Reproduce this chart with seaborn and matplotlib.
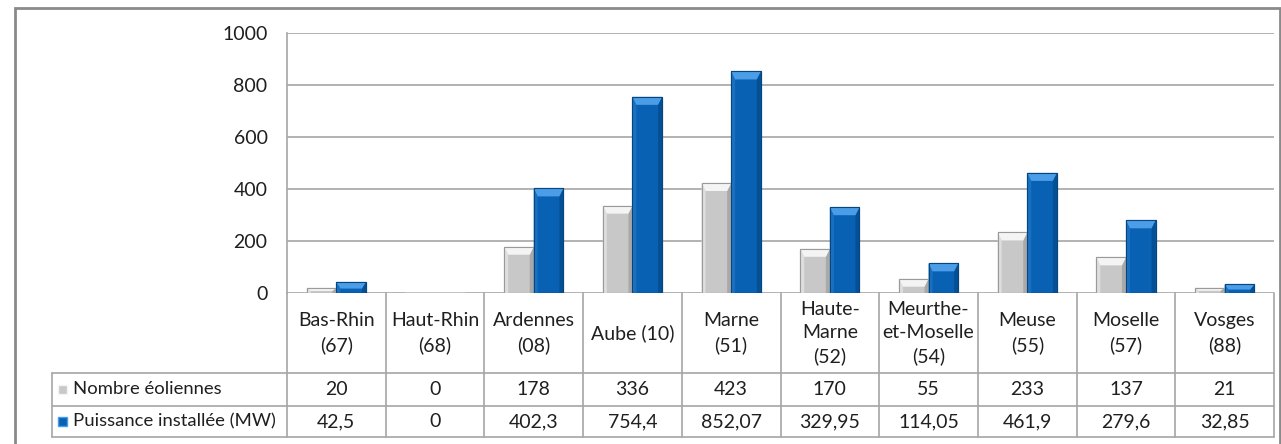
import matplotlib
matplotlib.use("Agg")
import matplotlib.pyplot as plt
import seaborn as sns
import pandas as pd
from matplotlib.patches import Rectangle, Polygon
from matplotlib.lines import Line2D
from matplotlib.transforms import blended_transform_factory

# Wind power in the Grand Est departments
departements = ["Bas-Rhin\n(67)", "Haut-Rhin\n(68)", "Ardennes\n(08)", "Aube (10)",
                "Marne\n(51)", "Haute-\nMarne\n(52)", "Meurthe-\net-Moselle\n(54)",
                "Meuse\n(55)", "Moselle\n(57)", "Vosges\n(88)"]
nombre_eoliennes = [20, 0, 178, 336, 423, 170, 55, 233, 137, 21]
puissance_mw = [42.5, 0, 402.3, 754.4, 852.07, 329.95, 114.05, 461.9, 279.6, 32.85]
series = ["Nombre éoliennes", "Puissance installée (MW)"]
y_ticks = [0, 200, 400, 600, 800, 1000]

body_colors = ["#c8c8c8", "#0861b3"]
top_colors = ["#f4f4f4", "#4a9de6"]
left_colors = ["#dedede", "#1a70c0"]
right_colors = ["#a9a9a9", "#054f94"]
edge_colors = ["#9a9a9a", "#06467f"]
line_gray = "#a6a6a6"
text_color = "#1f1f1f"

sns.set_style("white")
plt.rcParams["font.family"] = ["Lato", "DejaVu Sans"]
FS = 14
FS_LEG = 13.3

W, H = 1281, 444
fig = plt.figure(figsize=(W / 100, H / 100), dpi=100)
ax_left, ax_right, ax_bottom, ax_top = 287, 1274, 293, 33
ax = fig.add_axes([ax_left / W, (H - ax_bottom) / H,
                   (ax_right - ax_left) / W, (ax_bottom - ax_top) / H])

df = pd.DataFrame({
    "dep": departements * 2,
    "val": nombre_eoliennes + puissance_mw,
    "serie": [series[0]] * len(departements) + [series[1]] * len(departements),
})
sns.barplot(data=df, x="dep", y="val", hue="serie", order=departements,
            hue_order=series, palette=body_colors, saturation=1,
            width=0.6, gap=0, legend=False, ax=ax, zorder=3)

ax.set_xlim(-0.5, len(departements) - 0.5)
ax.set_ylim(0, 1000)
ax.set_yticks(y_ticks)
ax.set_yticklabels([str(t) for t in y_ticks], fontsize=FS, color=text_color)
ax.tick_params(axis="y", length=0, pad=14)
ax.set_xticks([])
ax.set_xlabel("")
ax.set_ylabel("")
ax.yaxis.grid(True, color=line_gray, lw=1.2, zorder=0)
for side in ["top", "right", "bottom"]:
    ax.spines[side].set_visible(False)
ax.spines["left"].set_color(line_gray)
ax.spines["left"].set_linewidth(1.2)

# Bevelled look on each bar
px_per_x = (ax_right - ax_left) / len(departements)
px_per_y = (ax_bottom - ax_top) / 1000
dx = 1 / px_per_x
dy = 1 / px_per_y
n = len(departements)
for k, p in enumerate(ax.patches):
    h = p.get_height()
    if h <= 0:
        continue
    s = 0 if k < n else 1
    x0, w = p.get_x(), p.get_width()
    p.set_edgecolor(edge_colors[s])
    p.set_linewidth(0.8)
    b = min(8 * dy, h * 0.6)
    inset = 4 * dx
    ax.add_patch(Polygon([(x0, 0), (x0, h), (x0 + inset, h - b), (x0 + inset, 0)],
                         closed=True, facecolor=left_colors[s], edgecolor="none", zorder=4))
    ax.add_patch(Polygon([(x0 + w, 0), (x0 + w, h), (x0 + w - inset, h - b), (x0 + w - inset, 0)],
                         closed=True, facecolor=right_colors[s], edgecolor="none", zorder=4))
    ax.add_patch(Polygon([(x0, h), (x0 + w, h), (x0 + w - inset, h - b), (x0 + inset, h - b)],
                         closed=True, facecolor=top_colors[s], edgecolor="none", zorder=4))
    ax.add_patch(Rectangle((x0, 0), w, h, fill=False, edgecolor=edge_colors[s],
                           lw=0.8, zorder=5))

# Data table below the axis
tr = blended_transform_factory(ax.transData, ax.transAxes)
ax_h = ax_bottom - ax_top
r0 = 0
r1 = -(373 - ax_bottom) / ax_h
r2 = -(406 - ax_bottom) / ax_h
r3 = -(437 - ax_bottom) / ax_h


def px_to_x(px):
    return (px - ax_left) / px_per_x - 0.5


leg_left = px_to_x(52)
right_x = n - 0.5


def hline(x_a, x_b, y):
    ax.add_line(Line2D([x_a, x_b], [y, y], transform=tr, color=line_gray,
                       lw=1.2, clip_on=False))


def vline(x, y_a, y_b):
    ax.add_line(Line2D([x, x], [y_a, y_b], transform=tr, color=line_gray,
                       lw=1.2, clip_on=False))


hline(leg_left, right_x, r1)
hline(leg_left, right_x, r2)
hline(leg_left, right_x, r3)
for k in range(n + 1):
    vline(k - 0.5, r3, r0)
vline(leg_left, r3, r1)


def fmt(v):
    return f"{v:g}".replace(".", ",")


for i, dep in enumerate(departements):
    ax.text(i, (r0 + r1) / 2, dep, transform=tr, ha="center", va="center",
            fontsize=FS, color=text_color, linespacing=1.45, clip_on=False)
    ax.text(i, (r1 + r2) / 2, fmt(nombre_eoliennes[i]), transform=tr, ha="center",
            va="center", fontsize=FS, color=text_color, clip_on=False)
    ax.text(i, (r2 + r3) / 2, fmt(puissance_mw[i]), transform=tr, ha="center",
            va="center", fontsize=FS, color=text_color, clip_on=False)

# Legend keys inside the table's first column
for s, (ya, yb) in enumerate([(r1, r2), (r2, r3)]):
    yc = (ya + yb) / 2
    key_h = 9 / ax_h
    ax.add_patch(Rectangle((px_to_x(58), yc - key_h / 2), 9 * dx, key_h,
                           transform=tr, facecolor=body_colors[s],
                           edgecolor=top_colors[s], lw=1.0, clip_on=False))
    ax.text(px_to_x(73), yc, series[s], transform=tr, ha="left", va="center",
            fontsize=FS_LEG, color=text_color, clip_on=False)

# Chart frame
fig.add_artist(Rectangle((15 / W, -0.02), (1280 - 15) / W, (H - 8) / H + 0.02,
                         transform=fig.transFigure, fill=False,
                         edgecolor="#8a8a8a", lw=2))

fig.savefig("out.png", dpi=100)
